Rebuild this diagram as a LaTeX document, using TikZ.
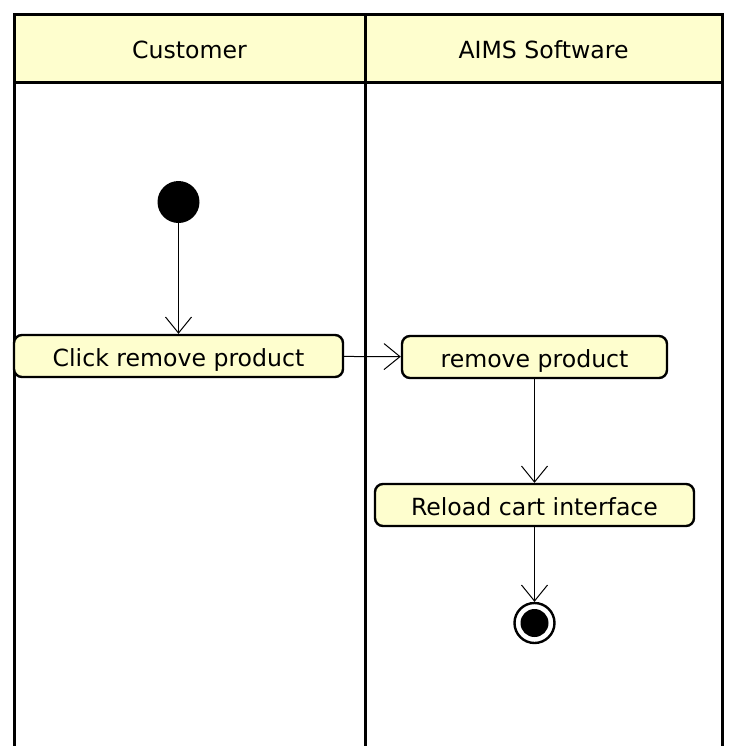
\documentclass[tikz,border=0pt]{standalone}
\usepackage{fontspec}
\setmainfont{DejaVu Sans}
\usetikzlibrary{arrows.meta}
\definecolor{umlfill}{HTML}{FEFECE}
\begin{document}
\begin{tikzpicture}
[x=0.5pt,y=-0.5pt,
  lanedecorate/.style={draw,line width=1.5pt,fill=umlfill,minimum height=34pt,inner sep=0pt,outer sep=0pt,text height=10.5pt,text depth=0pt,font=\fontsize{11.8}{14}\selectfont},%
  actiondecorate/.style={draw,line width=1.2pt,fill=umlfill,rounded corners=4pt,minimum height=21pt,inner sep=0pt,text height=10.5pt,text depth=0pt,font=\fontsize{11.8}{14}\selectfont},%
  startdecorate/.style={shape=circle,fill=black,minimum size=21pt,inner sep=0pt},%
  linedecorate/.style={-{Straight Barb[length=8pt,width=13pt]},line width=0.5pt}]
\useasboundingbox (0,0) rectangle (740,746);
% swimlanes
\node (customer) at (189.5,48) [lanedecorate,minimum width=175.5pt] {Customer};
\node (aims) at (543.5,48) [lanedecorate,minimum width=178.5pt] {AIMS Software};
\draw[line width=1.5pt] (customer.south west) -- ++(0,664)
  (customer.south east) -- ++(0,664)
  (aims.south east) -- ++(0,664);
% nodes or vertices
\node (start) at (178.5,202) [startdecorate] {};
\node (click) at (178.5,356) [actiondecorate,minimum width=164.5pt] {Click remove product};
\node (remove) at (534.5,357) [actiondecorate,minimum width=132.5pt] {remove product};
\node (reload) at (534.5,505) [actiondecorate,minimum width=159.5pt] {Reload cart interface};
\node (stop) at (534.5,623) [shape=circle,draw,line width=1.2pt,fill=white,minimum size=20pt,inner sep=0pt] {};
\node (stopdot) at (stop) [shape=circle,fill=black,minimum size=14pt,inner sep=0pt] {};
% edges or lines
\path
(start) edge[linedecorate] (click)
(click) edge[linedecorate] (remove)
(remove) edge[linedecorate] (reload)
(reload) edge[linedecorate] (stop);
\end{tikzpicture}
\end{document}
